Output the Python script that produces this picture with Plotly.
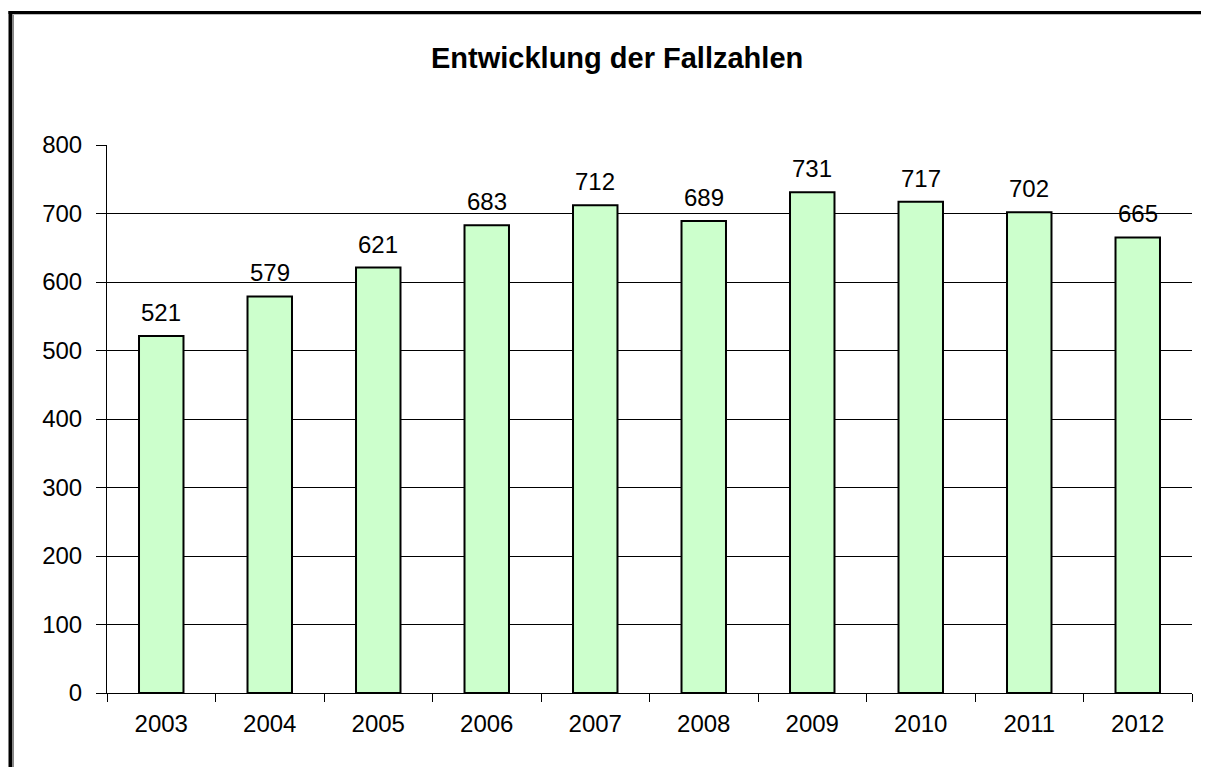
import plotly.graph_objects as go

years = ["2003", "2004", "2005", "2006", "2007", "2008", "2009", "2010", "2011", "2012"]
cases = [521, 579, 621, 683, 712, 689, 731, 717, 702, 665]
y_ticks = [0, 100, 200, 300, 400, 500, 600, 700, 800]
title_text = "Entwicklung der Fallzahlen"

OFF = 8  # default page body margin
W, H = 1209 - OFF, 767 - OFF
L, R, T, B = 107 - OFF, 17, 145 - OFF, 74
pw, ph = W - L - R, H - T - B


def px_x(p):
    # p is a pixel position in the 1209x767 window
    return (p - OFF - L) / pw


def px_y(p):
    return (H - B - (p - OFF)) / ph


FONT = "Liberation Sans, Arial, sans-serif"

fig = go.Figure(
    go.Bar(
        x=years,
        y=cases,
        marker=dict(color="#CCFFCC", line=dict(color="black", width=2)),
        hoverinfo="x+y",
    )
)

annotations = [
    dict(
        x=i, y=v, xref="x", yref="y", text=str(v), showarrow=False,
        xanchor="center", yanchor="bottom", yshift=8,
        font=dict(family=FONT, size=24, color="black"),
    )
    for i, v in enumerate(cases)
]
annotations.append(
    dict(
        x=px_x(617), y=px_y(58), xref="paper", yref="paper", text="<b>" + title_text + "</b>",
        showarrow=False, xanchor="center", yanchor="middle",
        font=dict(family=FONT, size=29, color="black"),
    )
)

shapes = [
    dict(type="line", xref="paper", yref="paper", x0=px_x(8.5), x1=px_x(1215), y0=px_y(12.5), y1=px_y(12.5),
         line=dict(color="black", width=3), layer="above"),
    dict(type="line", xref="paper", yref="paper", x0=px_x(10.5), x1=px_x(10.5), y0=px_y(11), y1=px_y(775),
         line=dict(color="black", width=4), layer="above"),
    dict(type="line", xref="paper", yref="paper", x0=px_x(13), x1=px_x(13), y0=px_y(14), y1=px_y(775),
         line=dict(color="#888888", width=2), layer="above"),
    dict(type="line", xref="paper", yref="paper", x0=px_x(13), x1=px_x(1215), y0=px_y(14.5), y1=px_y(14.5),
         line=dict(color="#BBBBBB", width=1), layer="above"),
]

fig.update_layout(
    width=W, height=H,
    margin=dict(l=L, r=R, t=T, b=B, pad=0, autoexpand=False),
    paper_bgcolor="white", plot_bgcolor="white",
    showlegend=False,
    bargap=0.59,
    font=dict(family=FONT, size=24, color="black"),
    annotations=annotations,
    shapes=shapes,
    xaxis=dict(
        type="category", range=[-0.5, len(years) - 0.5], automargin=False,
        showline=True, linecolor="black", linewidth=1,
        ticks="outside", tickson="boundaries", ticklen=8, tickcolor="black", tickwidth=1,
        showgrid=False, zeroline=False, tickangle=0,
        tickfont=dict(family=FONT, size=24, color="black"),
        ticklabelstandoff=9,
    ),
    yaxis=dict(
        range=[0, 800], tickvals=y_ticks, automargin=False,
        showline=True, linecolor="black", linewidth=1,
        ticks="outside", ticklen=10, tickcolor="black", tickwidth=1,
        showgrid=True, gridcolor="black", gridwidth=1, zeroline=False,
        tickfont=dict(family=FONT, size=24, color="black"),
        ticklabelstandoff=9,
    ),
)

fig.write_html("out.html")
